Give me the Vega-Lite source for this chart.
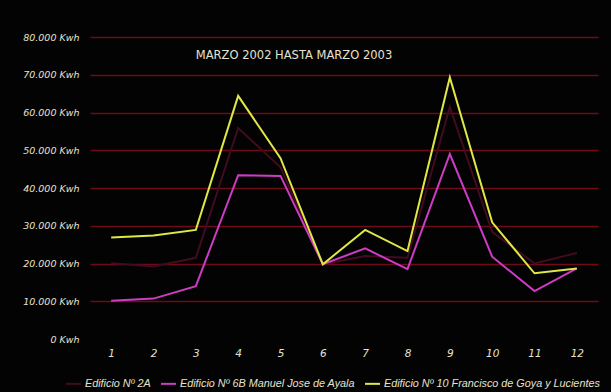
{
  "$schema": "https://vega.github.io/schema/vega-lite/v6.json",
  "width": 508,
  "height": 302,
  "autosize": "none",
  "padding": {"left": 90, "top": 37, "right": 13, "bottom": 53},
  "background": "#030303",
  "title": {
    "text": "MARZO 2002 HASTA MARZO 2003",
    "anchor": "middle",
    "frame": "group",
    "orient": "top",
    "offset": 0,
    "dx": -50,
    "dy": 35,
    "baseline": "middle",
    "font": "DejaVu Sans",
    "fontSize": 11.5,
    "fontWeight": "normal",
    "color": "#e6e2cf"
  },
  "data": {
    "values": [
      {"mes": 1, "edificio": "Edificio Nº 2A", "kwh": 20100},
      {"mes": 2, "edificio": "Edificio Nº 2A", "kwh": 19200},
      {"mes": 3, "edificio": "Edificio Nº 2A", "kwh": 21500},
      {"mes": 4, "edificio": "Edificio Nº 2A", "kwh": 55900},
      {"mes": 5, "edificio": "Edificio Nº 2A", "kwh": 45500},
      {"mes": 6, "edificio": "Edificio Nº 2A", "kwh": 19800},
      {"mes": 7, "edificio": "Edificio Nº 2A", "kwh": 22000},
      {"mes": 8, "edificio": "Edificio Nº 2A", "kwh": 21500},
      {"mes": 9, "edificio": "Edificio Nº 2A", "kwh": 61500},
      {"mes": 10, "edificio": "Edificio Nº 2A", "kwh": 28400},
      {"mes": 11, "edificio": "Edificio Nº 2A", "kwh": 20000},
      {"mes": 12, "edificio": "Edificio Nº 2A", "kwh": 22800},
      {"mes": 1, "edificio": "Edificio Nº 6B Manuel Jose de Ayala", "kwh": 10100},
      {"mes": 2, "edificio": "Edificio Nº 6B Manuel Jose de Ayala", "kwh": 10700},
      {"mes": 3, "edificio": "Edificio Nº 6B Manuel Jose de Ayala", "kwh": 14000},
      {"mes": 4, "edificio": "Edificio Nº 6B Manuel Jose de Ayala", "kwh": 43400},
      {"mes": 5, "edificio": "Edificio Nº 6B Manuel Jose de Ayala", "kwh": 43200},
      {"mes": 6, "edificio": "Edificio Nº 6B Manuel Jose de Ayala", "kwh": 19800},
      {"mes": 7, "edificio": "Edificio Nº 6B Manuel Jose de Ayala", "kwh": 24000},
      {"mes": 8, "edificio": "Edificio Nº 6B Manuel Jose de Ayala", "kwh": 18500},
      {"mes": 9, "edificio": "Edificio Nº 6B Manuel Jose de Ayala", "kwh": 49000},
      {"mes": 10, "edificio": "Edificio Nº 6B Manuel Jose de Ayala", "kwh": 21800},
      {"mes": 11, "edificio": "Edificio Nº 6B Manuel Jose de Ayala", "kwh": 12700},
      {"mes": 12, "edificio": "Edificio Nº 6B Manuel Jose de Ayala", "kwh": 18700},
      {"mes": 1, "edificio": "Edificio Nº 10 Francisco de Goya y Lucientes", "kwh": 26900},
      {"mes": 2, "edificio": "Edificio Nº 10 Francisco de Goya y Lucientes", "kwh": 27400},
      {"mes": 3, "edificio": "Edificio Nº 10 Francisco de Goya y Lucientes", "kwh": 28900},
      {"mes": 4, "edificio": "Edificio Nº 10 Francisco de Goya y Lucientes", "kwh": 64400},
      {"mes": 5, "edificio": "Edificio Nº 10 Francisco de Goya y Lucientes", "kwh": 47900},
      {"mes": 6, "edificio": "Edificio Nº 10 Francisco de Goya y Lucientes", "kwh": 19800},
      {"mes": 7, "edificio": "Edificio Nº 10 Francisco de Goya y Lucientes", "kwh": 28900},
      {"mes": 8, "edificio": "Edificio Nº 10 Francisco de Goya y Lucientes", "kwh": 23300},
      {"mes": 9, "edificio": "Edificio Nº 10 Francisco de Goya y Lucientes", "kwh": 69300},
      {"mes": 10, "edificio": "Edificio Nº 10 Francisco de Goya y Lucientes", "kwh": 30900},
      {"mes": 11, "edificio": "Edificio Nº 10 Francisco de Goya y Lucientes", "kwh": 17400},
      {"mes": 12, "edificio": "Edificio Nº 10 Francisco de Goya y Lucientes", "kwh": 18700}
    ]
  },
  "mark": {"type": "line", "strokeWidth": 2, "clip": false},
  "encoding": {
    "x": {
      "field": "mes",
      "type": "quantitative",
      "scale": {"domain": [0.5, 12.5], "nice": false, "zero": false},
      "axis": {
        "title": null,
        "values": [1, 2, 3, 4, 5, 6, 7, 8, 9, 10, 11, 12],
        "grid": false,
        "domain": false,
        "ticks": false,
        "labelPadding": 9,
        "labelFontSize": 10.5,
        "labelFontStyle": "italic",
        "labelFont": "DejaVu Sans",
        "labelColor": "#e6e2cf"
      }
    },
    "y": {
      "field": "kwh",
      "type": "quantitative",
      "scale": {"domain": [0, 80000], "nice": false},
      "axis": {
        "title": null,
        "values": [0, 10000, 20000, 30000, 40000, 50000, 60000, 70000, 80000],
        "labelExpr": "replace(format(datum.value, ','), ',', '.') + ' Kwh'",
        "domain": false,
        "ticks": false,
        "labelPadding": 11,
        "labelFontSize": 9.5,
        "labelFontStyle": "italic",
        "labelFont": "DejaVu Sans",
        "labelColor": "#e6e2cf",
        "gridColor": {"condition": {"test": "datum.value === 0", "value": "transparent"}, "value": "#6e0b17"},
        "gridWidth": 1.5
      }
    },
    "color": {
      "field": "edificio",
      "type": "nominal",
      "scale": {
        "domain": ["Edificio Nº 2A", "Edificio Nº 6B Manuel Jose de Ayala", "Edificio Nº 10 Francisco de Goya y Lucientes"],
        "range": ["#420b1f", "#cf3cc4", "#dfe845"]
      },
      "legend": {
        "title": null,
        "orient": "none",
        "direction": "horizontal",
        "legendX": -25,
        "legendY": 338,
        "symbolType": "stroke",
        "symbolStrokeWidth": 2,
        "symbolSize": 225,
        "columnPadding": 6,
        "labelOffset": 3,
        "labelFontSize": 10.8,
        "labelFontStyle": "italic",
        "labelFont": "Liberation Sans",
        "labelColor": "#e6e2cf",
        "labelLimit": 400
      }
    }
  },
  "config": {"view": {"stroke": null}}
}
